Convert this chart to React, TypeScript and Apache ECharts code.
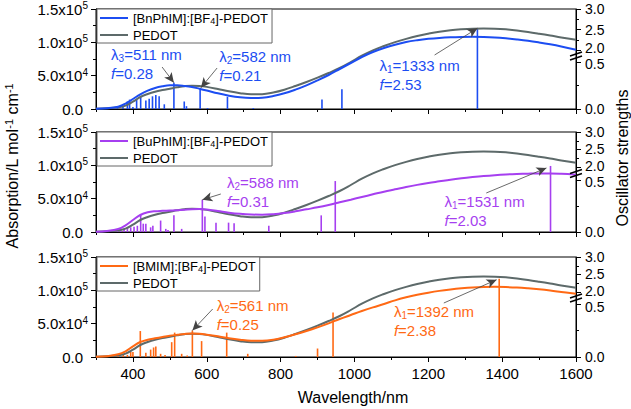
import React, { useEffect, useRef } from "react";
import * as echarts from "echarts";

const FONT = "'Liberation Sans', Arial, Helvetica, sans-serif";

// ---- data ----
const WAVELENGTHS = [300, 330, 360, 380, 400, 420, 440, 460, 480, 500, 520, 540, 560, 580, 600, 630, 660, 690, 720, 750, 780, 810, 840, 870, 900, 930, 960, 990, 1020, 1050, 1080, 1110, 1140, 1170, 1200, 1230, 1260, 1290, 1320, 1350, 1380, 1410, 1440, 1470, 1500, 1530, 1560, 1600];

const PEDOT = [500, 1000, 2500, 5000, 11000, 18000, 22500, 26000, 28500, 30500, 32500, 34200, 35000, 34600, 33200, 30000, 26500, 23800, 22200, 22300, 24800, 29000, 34500, 40500, 47000, 54000, 61500, 70500, 80000, 88000, 94500, 100300, 105200, 109500, 113000, 116000, 118200, 119600, 120500, 120800, 120500, 119500, 117800, 115600, 113000, 110200, 107300, 104000];

const BNPHIM = [500, 1200, 3500, 8000, 15000, 22000, 27500, 31500, 34000, 35500, 35600, 34600, 33000, 30500, 27800, 23500, 20000, 17500, 16500, 17000, 19500, 23500, 29000, 35500, 43000, 51000, 60000, 69000, 78000, 85500, 91500, 96500, 100500, 103200, 105200, 106600, 107500, 108000, 108200, 108000, 107300, 106000, 104300, 102300, 99800, 97000, 93800, 89000];

const BUPHIM = [500, 1500, 4500, 10000, 18000, 25500, 29500, 31200, 31800, 32200, 32800, 33500, 34200, 34500, 33800, 31500, 29000, 27200, 26200, 26000, 26800, 28500, 31000, 34000, 37000, 40500, 44500, 48500, 52500, 56500, 60500, 64000, 67500, 70700, 73500, 76000, 78500, 80600, 82400, 84000, 85300, 86300, 87000, 87500, 87800, 87800, 87300, 86000];

const BMIM = [500, 1200, 4000, 8500, 16000, 22500, 25800, 28000, 30000, 31800, 33200, 34500, 35200, 34800, 33500, 31000, 28000, 25800, 24500, 24500, 26000, 29500, 34000, 39000, 44500, 50500, 57000, 63000, 69000, 74500, 79500, 85000, 89500, 93300, 96500, 99200, 101300, 103000, 104300, 105000, 105200, 104900, 104200, 103000, 101500, 99700, 97600, 94800];

const BNPHIM_STICK_NM = [358, 373, 385, 391, 400, 410, 421, 435, 444, 453, 462, 471, 485, 511, 539, 545, 582, 602, 656, 726, 912, 966, 1333];
const BNPHIM_STICK_F = [0.01, 0.03, 0.08, 0.1, 0.02, 0.1, 0.13, 0.09, 0.11, 0.135, 0.15, 0.135, 0.05, 0.28, 0.08, 0.03, 0.21, 0.01, 0.13, 0.01, 0.1, 0.21, 2.53];

const BUPHIM_STICK_NM = [330, 344, 358, 367, 376, 385, 394, 403, 412, 421, 428, 435, 448, 454, 475, 489, 495, 511, 532, 588, 595, 625, 659, 674, 768, 910, 948, 1531];
const BUPHIM_STICK_F = [0.01, 0.015, 0.02, 0.02, 0.03, 0.035, 0.045, 0.05, 0.06, 0.17, 0.08, 0.08, 0.045, 0.06, 0.11, 0.03, 0.02, 0.16, 0.03, 0.31, 0.15, 0.09, 0.09, 0.085, 0.06, 0.16, 0.49, 2.03];

const BMIM_STICK_NM = [331, 345, 360, 374, 385, 394, 400, 420, 435, 448, 456, 462, 475, 487, 505, 513, 532, 547, 561, 586, 654, 711, 841, 900, 942, 1392];
const BMIM_STICK_F = [0.01, 0.01, 0.015, 0.025, 0.02, 0.047, 0.047, 0.245, 0.04, 0.07, 0.09, 0.1, 0.03, 0.02, 0.14, 0.23, 0.03, 0.015, 0.25, 0.15, 0.23, 0.03, 0.01, 0.08, 0.42, 2.38];

const X_MAJOR = [400, 600, 800, 1000, 1200, 1400, 1600];
const X_MINOR = [300, 500, 700, 900, 1100, 1300, 1500];
const RIGHT_LABELS = [0, 0.5, 2, 2.5, 3];
const RIGHT_TICKS = [0, 0.5, 2, 2.5, 3];
const RIGHT_MINOR = [0.25, 2.25, 2.75];

// axis break geometry (share of panel height at f = 0.5 and f = 2.0)
function fToU(f: number, brk: number[]) {
  const [lo, hi] = brk;
  if (f <= 0.5) return (f / 0.5) * lo;
  if (f >= 2) return hi + (f - 2) * (100 - hi);
  return lo + ((f - 0.5) / 1.5) * (hi - lo);
}

// spread label anchors apart (min gap in px) so that neighbouring labels stay legible
function spread(vals: number[], gap: number) {
  const out = vals.slice();
  for (let it = 0; it < 60; it++) {
    for (let k = 1; k < out.length - 1; k++) {
      const d = out[k + 1] - out[k];
      if (d < gap) {
        const s = (gap - d) / 2;
        if (k + 1 < out.length - 1) out[k + 1] += s;
        out[k] -= k + 1 < out.length - 1 ? s : 2 * s;
      }
    }
  }
  return out;
}

const PANELS = [
  {
    name: "[BnPhIM]:[BF4]-PEDOT",
    color: "#1c4df2",
    curve: BNPHIM,
    stickNm: BNPHIM_STICK_NM,
    stickF: BNPHIM_STICK_F,
    brk: [47, 59],
    top: 9,
    anns: [
      { lam: "3", nm: 511, f: 0.28, tx: 341, ty: 64, fx: 479, fy: 42, dx: 0, du: 0 },
      { lam: "2", nm: 582, f: 0.21, tx: 634, ty: 62, fx: 628, fy: 41, dx: 2, du: 1.5 },
      { lam: "1", nm: 1333, f: 2.53, tx: 1068, ty: 53, fx: 1217, fy: 54, dx: 0, du: 0 },
    ],
  },
  {
    name: "[BuPhIM]:[BF4]-PEDOT",
    color: "#a63ff0",
    curve: BUPHIM,
    stickNm: BUPHIM_STICK_NM,
    stickF: BUPHIM_STICK_F,
    brk: [52, 65],
    top: 132,
    anns: [
      { lam: "2", nm: 588, f: 0.31, tx: 655, ty: 59, fx: 638, fy: 38, dx: 0, du: 0 },
      { lam: "1", nm: 1531, f: 2.03, tx: 1244, ty: 40, fx: 1357, fy: 39, dx: -11, du: -2 },
    ],
  },
  {
    name: "[BMIM]:[BF4]-PEDOT",
    color: "#ff6914",
    curve: BMIM,
    stickNm: BMIM_STICK_NM,
    stickF: BMIM_STICK_F,
    brk: [53, 65],
    top: 257,
    anns: [
      { lam: "2", nm: 561, f: 0.25, tx: 627, ty: 61, fx: 616, fy: 48, dx: 0, du: 0 },
      { lam: "1", nm: 1392, f: 2.38, tx: 1107, ty: 55, fx: 1242, fy: 54, dx: -7, du: -1 },
    ],
  },
];

const GREY = "#5d6a6a";

function leftFmt(v: number) {
  if (v === 0) return "0.0{pad| }";
  const e = Math.floor(Math.log10(v) + 1e-9);
  const m = v / Math.pow(10, e);
  return m.toFixed(1) + "x10{sup|" + e + "}";
}

export default function App() {
  const ref = useRef<HTMLDivElement>(null);
  useEffect(() => {
    if (!ref.current) return;
    const chart = echarts.init(ref.current, undefined, { renderer: "svg" });
    const grids: any[] = [];
    const xAxes: any[] = [];
    const xMinorAxes: any[] = [];
    const yAxes: any[] = [];
    const yMinorAxes: any[] = [];
    const series: any[] = [];
    const legends: any[] = [];

    PANELS.forEach((p, i) => {
      grids.push({ left: 96, right: 55, top: p.top, height: 100, show: true, borderColor: "#000", borderWidth: 1, backgroundColor: "transparent" });
      xAxes.push({
        type: "value", gridIndex: i, min: 300, max: 1600, interval: 100,
        axisLine: { show: true, lineStyle: { color: "#000", width: 1 } },
        axisTick: { show: true, length: 5, lineStyle: { color: "#000" }, customValues: X_MAJOR },
        splitLine: { show: false },
        axisLabel: {
          show: i === 2, color: "#000", fontSize: 15, fontFamily: FONT, margin: 9,
          customValues: X_MAJOR, formatter: (v: number) => String(v),
        },
      });
      xMinorAxes.push({
        type: "value", gridIndex: i, min: 300, max: 1600, interval: 100, position: "bottom",
        axisLine: { show: false },
        axisTick: { show: true, length: 3, lineStyle: { color: "#000" }, customValues: X_MINOR },
        splitLine: { show: false },
        axisLabel: { show: false },
      });
      yAxes.push({
        type: "value", gridIndex: i, position: "left", min: 0, max: 150000, interval: 50000,
        axisLine: { show: true, lineStyle: { color: "#000", width: 1 } },
        axisTick: { show: true, length: 5, lineStyle: { color: "#000" } },
        minorTick: { show: true, splitNumber: 2, length: 3, lineStyle: { color: "#000" } },
        splitLine: { show: false },
        axisLabel: {
          color: "#000", fontSize: 15, fontFamily: FONT, margin: 8, lineHeight: 17,
          formatter: leftFmt,
          rich: {
            sup: { fontSize: 10, lineHeight: 9, verticalAlign: "top", fontFamily: FONT, color: "#000" },
            pad: { width: 5, fontSize: 15, fontFamily: FONT },
          },
        },
      });
      const tickVals = RIGHT_LABELS.map((f) => fToU(f, p.brk));
      const labelVals = spread(tickVals, 16.8);
      yAxes.push({
        type: "value", gridIndex: i, position: "right", min: 0, max: 100,
        axisLine: { show: true, lineStyle: { color: "#000", width: 1 } },
        axisTick: { show: true, length: 5, lineStyle: { color: "#000" }, customValues: RIGHT_TICKS.map((f) => fToU(f, p.brk)) },
        splitLine: { show: false },
        axisLabel: {
          color: "#000", fontSize: 14, fontFamily: FONT, margin: 9, lineHeight: 11,
          customValues: labelVals,
          formatter: (v: number) => {
            for (let k = 0; k < RIGHT_LABELS.length; k++) {
              if (Math.abs(labelVals[k] - v) < 0.01) return RIGHT_LABELS[k].toFixed(1);
            }
            return "";
          },
        },
      });
      yMinorAxes.push({
        type: "value", gridIndex: i, position: "right", min: 0, max: 100,
        axisLine: { show: false },
        axisTick: { show: true, length: 3, lineStyle: { color: "#000" }, customValues: RIGHT_MINOR.map((f) => fToU(f, p.brk)) },
        splitLine: { show: false },
        axisLabel: { show: false },
      });

      series.push({
        type: "line", name: "PEDOT", xAxisIndex: i, yAxisIndex: 2 * i,
        data: WAVELENGTHS.map((w, k) => [w, PEDOT[k]]),
        showSymbol: false, symbol: "none", smooth: 0.4,
        lineStyle: { color: GREY, width: 2 }, itemStyle: { color: GREY },
      });
      series.push({
        type: "line", name: p.name, xAxisIndex: i, yAxisIndex: 2 * i,
        data: WAVELENGTHS.map((w, k) => [w, p.curve[k]]),
        showSymbol: false, symbol: "none", smooth: 0.4,
        lineStyle: { color: p.color, width: 2 }, itemStyle: { color: p.color },
      });
      const annRich = {
        sub: { fontSize: 10, lineHeight: 9, verticalAlign: "bottom", fontFamily: FONT, color: p.color },
        i: { fontStyle: "italic", fontSize: 15, fontFamily: FONT, color: p.color },
      };
      series.push({
        type: "bar", name: p.name + " f", xAxisIndex: i, yAxisIndex: 2 * i + 1,
        barWidth: 1.6, itemStyle: { color: p.color },
        data: p.stickNm.map((w, k) => [w, fToU(p.stickF[k], p.brk)]),
        markPoint: {
          symbol: "circle", symbolSize: 0.1, silent: true, animation: false,
          itemStyle: { color: "transparent" },
          data: p.anns.map((a) => ({
            coord: [a.tx, a.ty],
            label: {
              show: true, position: [0, 0], align: "left", verticalAlign: "top",
              color: p.color, fontSize: 15, fontFamily: FONT, lineHeight: 19, rich: annRich,
              formatter: () => "λ{sub|" + a.lam + "}=" + a.nm + " nm\n{i|f}=" + a.f.toFixed(2),
            },
          })),
        },
        markLine: {
          silent: true, animation: false, symbol: ["none", "arrow"], symbolSize: [7, 10],
          lineStyle: { color: "#444", width: 0.8, type: "solid" },
          label: { show: false },
          data: p.anns.map((a) => [
            { coord: [a.fx, a.fy] },
            { coord: [a.nm + a.dx, fToU(a.f, p.brk) + a.du] },
          ]),
        },
      });

      legends.push({
        data: [p.name, "PEDOT"], orient: "vertical", left: 97, top: p.top,
        icon: "rect", itemWidth: 28, itemHeight: 2, itemGap: 3, padding: [2, 4, 1, 3],
        borderColor: "#666", borderWidth: 1, backgroundColor: "#fff",
        selectedMode: false,
        formatter: (n: string) => n.replace("[BF4]", "[BF{sub|4}]"),
        textStyle: {
          color: "#000", fontSize: 13, fontFamily: FONT, lineHeight: 14,
          rich: { sub: { fontSize: 9, lineHeight: 8, verticalAlign: "bottom", fontFamily: FONT, color: "#000" } },
        },
      });
    });

    chart.setOption({
      animation: false,
      backgroundColor: "#fff",
      grid: grids,
      xAxis: [...xAxes, ...xMinorAxes],
      yAxis: [...yAxes, ...yMinorAxes],
      legend: legends,
      series,
    });

    const elements: any[] = [
      {
        type: "text", x: 12, y: 166, rotation: Math.PI / 2,
        style: {
          text: "Absorption/L mol{sup|-1} cm{sup|-1}", fontSize: 16, fontFamily: FONT, fill: "#000",
          align: "center", verticalAlign: "middle", lineHeight: 18,
          rich: { sup: { fontSize: 11, lineHeight: 10, verticalAlign: "top", fontFamily: FONT, fill: "#000" } },
        },
      },
      {
        type: "text", x: 622, y: 158, rotation: Math.PI / 2,
        style: { text: "Oscillator strengths", fontSize: 16, fontFamily: FONT, fill: "#000", align: "center", verticalAlign: "middle" },
      },
      {
        type: "text", x: 353, y: 397,
        style: { text: "Wavelength/nm", fontSize: 16, fontFamily: FONT, fill: "#000", align: "center", verticalAlign: "middle" },
      },
    ];
    PANELS.forEach((p, i) => {
      const x = chart.convertToPixel({ xAxisIndex: i } as any, 1600) as unknown as number;
      const y = chart.convertToPixel({ yAxisIndex: 2 * i + 1 } as any, (p.brk[0] + p.brk[1]) / 2) as unknown as number;
      [-2, 2].forEach((o) => {
        elements.push({
          type: "line", z: 100,
          shape: { x1: x - 6, y1: y + o + 2, x2: x + 6, y2: y + o - 2 },
          style: { stroke: "#000", lineWidth: 1.5 },
        });
      });
    });
    chart.setOption({ graphic: { elements } });

    return () => chart.dispose();
  }, []);
  return <div ref={ref} style={{ position: "fixed", left: 0, top: 0, width: 631, height: 409 }} />;
}
